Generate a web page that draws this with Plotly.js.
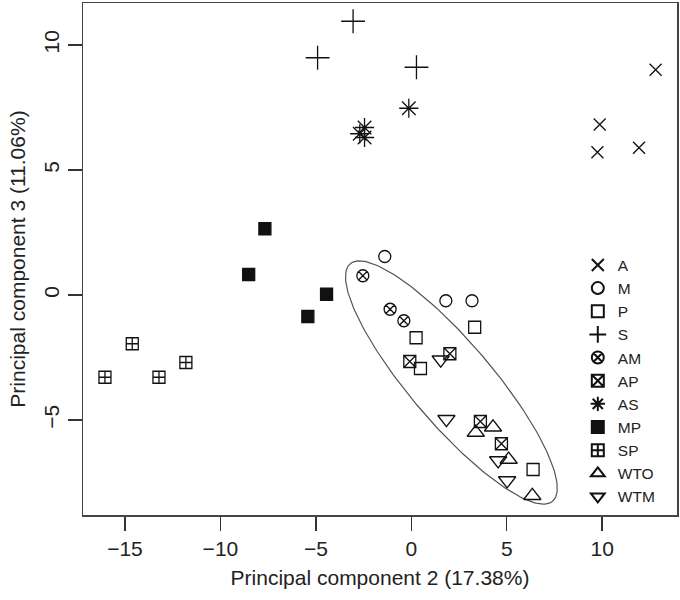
<!DOCTYPE html>
<html>
<head>
<meta charset="utf-8">
<script src="https://cdn.plot.ly/plotly-3.0.1.min.js"></script>
<style>html,body{margin:0;padding:0;background:#fff;}#chart{width:680px;height:600px;}</style>
</head>
<body>
<div id="chart"></div>
<script>
// ---- data ----
const groups = ["A", "M", "P", "S", "AM", "AP", "AS", "MP", "SP", "WTO", "WTM"];
const A_x = [12.8, 9.87, 9.75, 11.93];
const A_y = [9.01, 6.82, 5.71, 5.89];
const M_x = [-1.39, 1.81, 3.18];
const M_y = [1.54, -0.23, -0.23];
const P_x = [3.32, 0.25, 0.48, 6.38];
const P_y = [-1.29, -1.71, -2.94, -6.98];
const S_x = [-3.05, -4.91, 0.27];
const S_y = [10.95, 9.49, 9.11];
const AM_x = [-2.54, -1.11, -0.39];
const AM_y = [0.77, -0.57, -1.03];
const AP_x = [-0.08, 2.02, 3.62, 4.72];
const AP_y = [-2.66, -2.35, -5.06, -5.95];
const AS_x = [-2.7, -2.45, -2.45, -0.13];
const AS_y = [6.45, 6.7, 6.3, 7.47];
const MP_x = [-7.67, -8.52, -4.44, -5.42];
const MP_y = [2.65, 0.82, 0.03, -0.86];
const SP_x = [-14.62, -16.05, -13.22, -11.81];
const SP_y = [-1.95, -3.29, -3.29, -2.70];
const WTO_x = [4.28, 3.38, 5.10, 6.34];
const WTO_y = [-5.29, -5.50, -6.58, -8.03];
const WTM_x = [1.54, 1.84, 4.55, 5.02];
const WTM_y = [-2.59, -4.97, -6.62, -7.42];

const xTickVals = [-15, -10, -5, 0, 5, 10];
const yTickVals = [-5, 0, 5, 10];
const xTitle = "Principal component 2 (17.38%)";
const yTitle = "Principal component 3 (11.06%)";

// confidence ellipse (data units): centre, semi-major and semi-minor vectors
const ellipseCenter = [2.1, -3.5];
const ellipseMajor = [5.3, -4.75];
const ellipseMinor = [1.64, 1.05];

// ---- styling ----
const ink = "#111";
const symbolStyle = {
  A:   {symbol: "x-thin-open", size: 12},
  M:   {symbol: "circle-open", size: 12},
  P:   {symbol: "square-open", size: 12},
  S:   {symbol: "cross-thin-open", size: 17},
  AM:  {symbol: "circle-x-open", size: 12},
  AP:  {symbol: "square-x-open", size: 12},
  AS:  {symbol: "asterisk-open", size: 16},
  MP:  {symbol: "square", size: 12},
  SP:  {symbol: "square-cross-open", size: 12},
  WTO: {symbol: "triangle-up-open", size: 15},
  WTM: {symbol: "triangle-down-open", size: 15}
};
const series = {
  A: [A_x, A_y], M: [M_x, M_y], P: [P_x, P_y], S: [S_x, S_y],
  AM: [AM_x, AM_y], AP: [AP_x, AP_y], AS: [AS_x, AS_y], MP: [MP_x, MP_y],
  SP: [SP_x, SP_y], WTO: [WTO_x, WTO_y], WTM: [WTM_x, WTM_y]
};

const traces = [];
// ellipse
const ex = [], ey = [];
for (let i = 0; i <= 200; i++) {
  const t = 2 * Math.PI * i / 200;
  ex.push(ellipseCenter[0] + ellipseMajor[0] * Math.cos(t) + ellipseMinor[0] * Math.sin(t));
  ey.push(ellipseCenter[1] + ellipseMajor[1] * Math.cos(t) + ellipseMinor[1] * Math.sin(t));
}
traces.push({x: ex, y: ey, mode: "lines", line: {color: "#555", width: 1.2}, showlegend: false, hoverinfo: "skip"});

groups.forEach(g => {
  const st = symbolStyle[g];
  traces.push({
    x: series[g][0], y: series[g][1], name: g, type: "scatter", mode: "markers",
    marker: {symbol: st.symbol, size: st.size, color: ink, line: {color: ink, width: 1.3}}
  });
});

const fontFam = "'Liberation Sans', Arial, Helvetica, sans-serif";
const layout = {
  width: 680, height: 600,
  margin: {l: 83, r: 3, t: 3, b: 85},
  paper_bgcolor: "#fff", plot_bgcolor: "#fff",
  font: {family: fontFam, size: 21, color: "#222"},
  showlegend: true,
  legend: {
    x: 0.833, y: 0.262, xanchor: "left", yanchor: "middle",
    bgcolor: "rgba(0,0,0,0)", font: {size: 15.5, color: "#222"},
    itemsizing: "constant", tracegroupgap: 0
  },
  xaxis: {
    range: [-17.2, 13.92], tickvals: xTickVals, ticktext: xTickVals.map(v => v < 0 ? "\u2212" + Math.abs(v) : String(v)),
    ticks: "outside", ticklen: 14, tickwidth: 1.5, tickcolor: "#333",
    showline: true, mirror: true, linecolor: "#444", linewidth: 1.5,
    showgrid: false, zeroline: false,
    title: {text: xTitle, font: {size: 21, color: "#222"}, standoff: 11}
  },
  yaxis: {
    range: [-8.8, 11.68], tickvals: yTickVals, ticktext: yTickVals.map(v => v < 0 ? "\u2212" + Math.abs(v) : String(v)),
    tickangle: -90,
    ticks: "outside", ticklen: 14, tickwidth: 1.5, tickcolor: "#333",
    showline: true, mirror: true, linecolor: "#444", linewidth: 1.5,
    showgrid: false, zeroline: false,
    title: {text: yTitle, font: {size: 21, color: "#222"}, standoff: 8}
  }
};

Plotly.newPlot("chart", traces, layout, {staticPlot: true, displayModeBar: false});
</script>
</body>
</html>
